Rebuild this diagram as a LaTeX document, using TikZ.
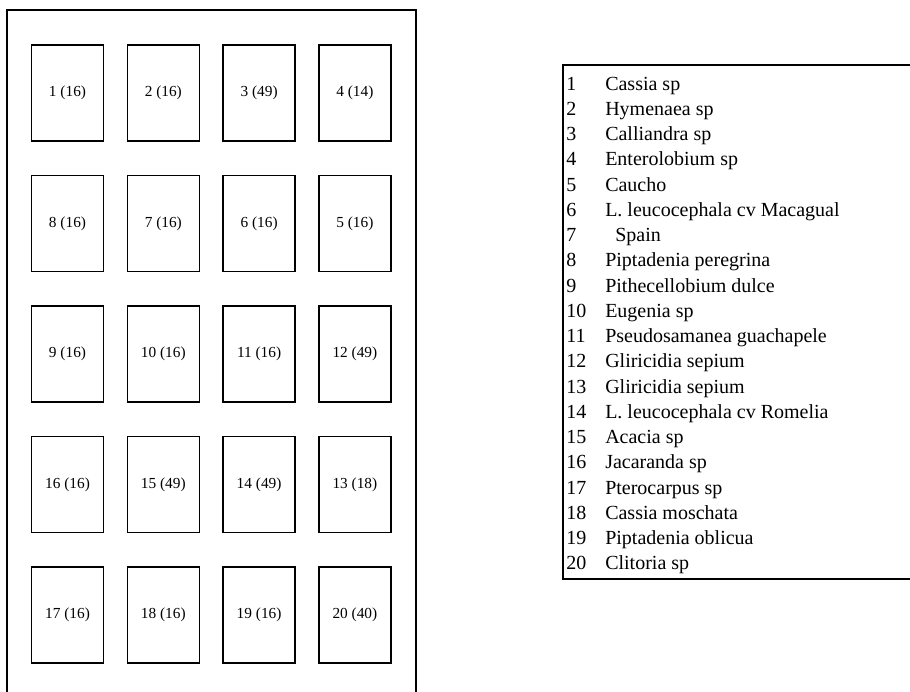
\documentclass[tikz,border=0pt]{standalone}
\usepackage{fontspec}
\setmainfont{Liberation Serif}

\tikzset{
  plot/.style={draw, line width=1.2pt, minimum width=54pt, minimum height=72pt,
    inner sep=0pt, font=\fontsize{11.5}{13}\selectfont},
  legnum/.style={anchor=base west, inner sep=0pt, font=\fontsize{15}{17}\selectfont},
  legname/.style={anchor=base west, inner sep=0pt, font=\fontsize{15}{17}\selectfont}
}

\begin{document}
\begin{tikzpicture}[x=0.75pt, y=-0.75pt]
      \useasboundingbox (0,0) rectangle (910,692) ;
      % field
      \draw[line width=1.1pt] (7,692) -- (7,10) -- (416,10) -- (416,692) ;
      \foreach \n/\c/\r/\t in {1/1/1/16, 2/2/1/16, 3/3/1/49, 4/4/1/14,
          8/1/2/16, 7/2/2/16, 6/3/2/16, 5/4/2/16,
          9/1/3/16, 10/2/3/16, 11/3/3/16, 12/4/3/49,
          16/1/4/16, 15/2/4/49, 14/3/4/49, 13/4/4/18,
          17/1/5/16, 18/2/5/16, 19/3/5/16, 20/4/5/40}
        \node[plot] (p\n) at ({67.5+95.8*(\c-1)},{93+130.5*(\r-1)}) {\n\ (\t)} ;
      % legend
      \draw[line width=0.8pt] (910,65) -- (563,65) -- (563,579) -- (910,579) ;
      \foreach \i/\s in {1/Cassia sp, 2/Hymenaea sp, 3/Calliandra sp,
          4/Enterolobium sp, 5/Caucho, 6/L. leucocephala cv Macagual,
          7/\ \ Spain, 8/Piptadenia peregrina, 9/Pithecellobium dulce,
          10/Eugenia sp, 11/Pseudosamanea guachapele, 12/Gliricidia sepium,
          13/Gliricidia sepium, 14/L. leucocephala cv Romelia, 15/Acacia sp,
          16/Jacaranda sp, 17/Pterocarpus sp, 18/Cassia moschata,
          19/Piptadenia oblicua, 20/Clitoria sp}
      {
        \node[legnum] (n\i) at (566,{90+25.26*(\i-1)}) {\i} ;
        \node[legname] (s\i) at (605,{90+25.26*(\i-1)}) {\s} ;
      }
    \end{tikzpicture}
\end{document}
